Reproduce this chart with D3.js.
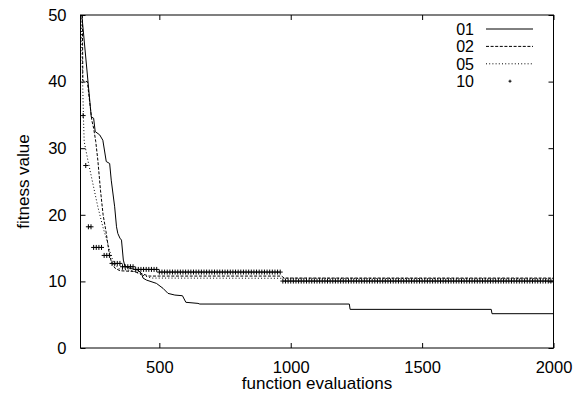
<!DOCTYPE html>
<html>
<head>
<meta charset="utf-8">
<script src="https://cdn.jsdelivr.net/npm/d3@7"></script>
<style>
  body { margin: 0; background: #fff; }
  text { font-family: "Liberation Sans", Arial, Helvetica, sans-serif; }
</style>
</head>
<body>
<script>
// series: [evaluations, fitness]
const run01 = [[205,50],[241,34.7],[250,34.5],[256,32.5],[273,32.0],[285,31.2],[298,28.0],[311,27.7],
  [317,25.2],[330,21.2],[337,18.2],[342,17.2],[350,16.5],[356,16.2],[363,13.2],[369,12.3],[388,11.96],
  [419,11.7],[432,11.2],[438,10.5],[451,10.2],[489,9.7],[514,8.96],[533,8.2],[559,7.95],[588,7.85],
  [601,6.86],[647,6.7],[654,6.6],[1223,6.6],[1226,5.8],[1763,5.8],[1766,5.15],[2000,5.15]];
const run02 = [[207,50],[209,40.1],[226,40],[243,34.2],[250,33],[258,31],[266,28.2],[276,23.7],
  [286,20],[297,17.5],[308,14.5],[317,13],[331,12],[350,11.6],[400,11.5],[430,11.2],[460,10.8],
  [965,10.8],[975,10.5],[2000,10.5]];
const run05 = [[202,50],[207,42],[211,35],[214,31],[228,28.2],[247,24.7],[266,21.2],[285,18.2],
  [304,15.7],[317,13.7],[330,12.7],[345,11.9],[400,11.6],[430,11.0],[470,10.5],[2000,10.4]];
// run 10 is plotted as points, one every 10 evaluations: [from, to, fitness]
const run10 = [[210,210,34.9],[220,220,27.4],[230,240,18.2],[250,280,15.1],[290,310,13.9],
  [320,350,12.7],[360,400,12.2],[410,490,11.8],[500,960,11.4],[970,2000,10.05]];

const xTicks = [500, 1000, 1500, 2000];
const yTicks = [0, 10, 20, 30, 40, 50];
const legendNames = ["01", "02", "05", "10"];

var margin = {top: 15, right: 32.5, bottom: 45, left: 80.5},
    width = 586 - margin.left - margin.right,
    height = 393 - margin.top - margin.bottom;

var svg = d3.select("body").append("svg")
    .attr("width", 586)
    .attr("height", 393)
  .append("g")
    .attr("transform", "translate(" + margin.left + "," + margin.top + ")");

var x = d3.scaleLinear().domain([200, 2000]).range([0, width]);
var y = d3.scaleLinear().domain([0, 50]).range([height, 0]);

// axes with inward ticks, mirrored on top and right
function styleAxis(g) {
  g.select(".domain").remove();
  g.selectAll("line").attr("stroke", "#000");
  g.selectAll("text").attr("font-size", 16.5).attr("fill", "#000");
}
svg.append("g")
  .attr("transform", "translate(0," + height + ")")
  .call(d3.axisBottom(x).tickValues(xTicks).tickFormat(d3.format("d"))
    .tickSizeInner(-5).tickSizeOuter(0).tickPadding(13))
  .call(styleAxis);
svg.append("g")
  .call(d3.axisTop(x).tickValues(xTicks).tickSizeInner(-5).tickSizeOuter(0).tickFormat(""))
  .call(styleAxis);
svg.append("g")
  .call(d3.axisLeft(y).tickValues(yTicks).tickSizeInner(-5).tickSizeOuter(0).tickPadding(14))
  .call(styleAxis);
svg.append("g")
  .attr("transform", "translate(" + width + ",0)")
  .call(d3.axisRight(y).tickValues(yTicks).tickSizeInner(-5).tickSizeOuter(0).tickFormat(""))
  .call(styleAxis);

svg.append("rect")
  .attr("width", width).attr("height", height)
  .attr("fill", "none").attr("stroke", "#000").attr("stroke-width", 1);

svg.append("clipPath").attr("id", "clip")
  .append("rect").attr("width", width).attr("height", height);

var line = d3.line().x(d => x(d[0])).y(d => y(d[1]));
var styles = [
  {data: run01, dash: null},
  {data: run02, dash: "3,1.6"},
  {data: run05, dash: "1,2.2"}
];
var plot = svg.append("g").attr("clip-path", "url(#clip)");
styles.forEach(function (s) {
  plot.append("path")
    .datum(s.data)
    .attr("d", line)
    .attr("fill", "none")
    .attr("stroke", "#000")
    .attr("stroke-width", 1)
    .attr("stroke-dasharray", s.dash);
});

var points10 = [];
run10.forEach(function (r) {
  d3.range(r[0], r[1] + 1, 10).forEach(function (e) { points10.push([e, r[2]]); });
});
var plus = "M-2.5,0H2.5M0,-2.5V2.5";
plot.selectAll(".p10")
  .data(points10)
  .enter()
  .append("path")
    .attr("class", "p10")
    .attr("transform", d => "translate(" + x(d[0]) + "," + y(d[1]) + ")")
    .attr("d", plus)
    .attr("stroke", "#000")
    .attr("stroke-width", 1);

// legend
var leg = svg.append("g");
legendNames.forEach(function (name, i) {
  var ly = 14 + i * 17.4;
  leg.append("text")
    .attr("x", 474 - margin.left)
    .attr("y", ly)
    .attr("dy", "0.36em")
    .attr("text-anchor", "end")
    .attr("font-size", 16)
    .text(name);
  if (i < 3) {
    leg.append("line")
      .attr("x1", 486 - margin.left).attr("x2", 533 - margin.left)
      .attr("y1", ly).attr("y2", ly)
      .attr("stroke", "#000")
      .attr("stroke-dasharray", styles[i].dash);
  } else {
    leg.append("path")
      .attr("transform", "translate(" + (510 - margin.left) + "," + ly + ")")
      .attr("d", "M-1.5,0H1.5M0,-1.5V1.5")
      .attr("stroke", "#000");
  }
});

svg.append("text")
  .attr("x", width / 2)
  .attr("y", 389 - margin.top)
  .attr("text-anchor", "middle")
  .attr("font-size", 17)
  .text("function evaluations");

svg.append("text")
  .attr("x", -height / 2)
  .attr("y", 29 - margin.left)
  .attr("transform", "rotate(-90)")
  .attr("text-anchor", "middle")
  .attr("font-size", 17)
  .text("fitness value");
</script>
</body>
</html>
